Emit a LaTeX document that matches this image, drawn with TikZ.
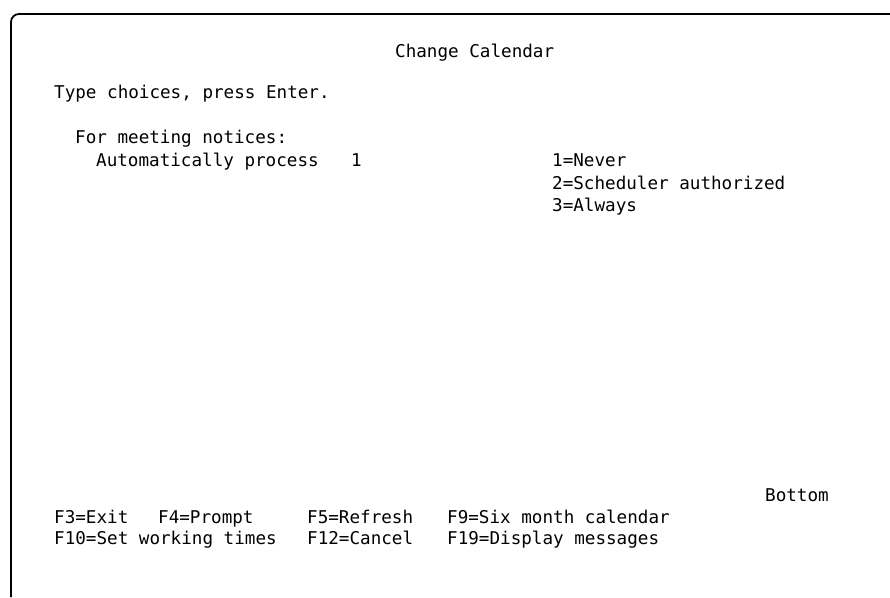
\documentclass[tikz,border=0pt]{standalone}
\usepackage{fontspec}
\setmonofont{DejaVu Sans Mono}

\tikzset{
  scr/.style={anchor=base west, inner sep=0pt, font=\ttfamily\fontsize{17.6pt}{20pt}\selectfont},
  frame/.style={line width=1.8pt, rounded corners=8pt}
}

\begin{document}
\begin{tikzpicture}[x=1pt,y=-1pt]
  \useasboundingbox (0,0) rectangle (890,597);
  \coordinate (fbl) at (11,597);
  \coordinate (ftl) at (11,14);
  \coordinate (ftr) at (890,14);
  \draw[frame] (fbl) -- (ftl) -- (ftr);

  \node[scr] (title) at (395,57) {Change Calendar};
  \node[scr] (type) at (54,98) {Type choices, press Enter.};
  \node[scr] (notices) at (75,143) {For meeting notices:};
  \node[scr] (auto) at (96,166) {Automatically process};
  \node[scr] (value) at (351,166) {1};
  \node[scr] (never) at (552,166) {1=Never};
  \node[scr] (sched) at (552,189) {2=Scheduler authorized};
  \node[scr] (always) at (552,211) {3=Always};

  \node[scr] (bottom) at (765,501) {Bottom};
  \node[scr] (fthree) at (54,523) {F3=Exit};
  \node[scr] (ffour) at (158,523) {F4=Prompt};
  \node[scr] (ffive) at (307,523) {F5=Refresh};
  \node[scr] (fnine) at (447,523) {F9=Six month calendar};
  \node[scr] (ften) at (54,544) {F10=Set working times};
  \node[scr] (ftwelve) at (307,544) {F12=Cancel};
  \node[scr] (fnineteen) at (447,544) {F19=Display messages};
\end{tikzpicture}
\end{document}
